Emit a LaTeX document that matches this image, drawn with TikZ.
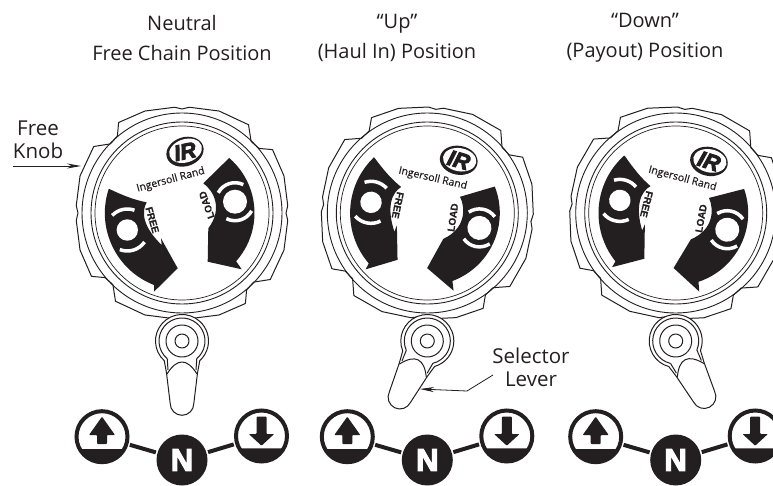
\documentclass[tikz,border=0pt]{standalone}
\usepackage{fontspec}
\setmainfont{Open Sans}
\newfontfamily\logofont[FakeBold=4,UprightFont=* Bold,ItalicFont=* Bold Italic]{Liberation Sans}
\newfontfamily\dialfont[FakeBold=1,UprightFont=* Bold]{Liberation Sans}
\newfontfamily\brandfont[FakeBold=0.5]{Open Sans}
\usetikzlibrary{arrows.meta}
\definecolor{inkblack}{HTML}{231F20}
\tikzset{
	title/.style={align=center,text=inkblack,font=\fontsize{20}{29.5}\selectfont},
	callout/.style={align=center,text=inkblack,font=\fontsize{20.5}{23}\selectfont},
	leader/.style={draw=inkblack,line width=0.8pt,-{Stealth[length=14pt,width=5pt]}},
	rimline/.style={draw=inkblack,line width=1pt,line join=round},
	lamp/.style={circle,draw=inkblack,fill=white,line width=4pt,minimum size=51pt,inner sep=0pt},
	neutral/.style={circle,fill=inkblack,text=white,minimum size=51pt,inner sep=0pt,font=\logofont\fontsize{31}{31}\selectfont},
	link/.style={draw=inkblack,line width=4pt,shorten >=1.5pt,shorten <=1.5pt},
	dialtext/.style={text=inkblack,inner sep=0pt,font=\dialfont\fontsize{10}{10}\selectfont},
}
\begin{document}
\begin{tikzpicture}[x=1pt,y=1pt]
		\useasboundingbox (0,0) rectangle (773,485);
		\clip (0,0) rectangle (773,485);
		\def\cy{272} %knob centre height
		\def\hy{144} %lever hub height
		\foreach \x/\cx/\rr/\lv in {1/182/0/0,2/427.3/-28/-26,3/675.7/-30/27}
		{
			\begin{scope}[shift={(\cx,\cy)}]
				% knob rim, same quadrant four times
				\draw[rimline,fill=white,rotate={\rr/6}] (0:104)
				\foreach \q in {0,90,180,270}
				{
					-- ({\q+4}:106) -- ({\q+20}:108.5) -- ({\q+35}:110.5) -- ({\q+40}:100.5) -- ({\q+46}:99.5)
					-- ({\q+53}:110.5) -- ({\q+70}:108.5) -- ({\q+86}:106) -- ({\q+90}:104)
				} -- cycle;
				\draw[rimline,line width=0.9pt] (0,0) circle (100);
				\draw[rimline,line width=0.9pt] (0,0) circle (91);
				\draw[rimline,line width=0.7pt] (0,0) circle (87);
				% dial turns with the lever
				\begin{scope}[rotate=\rr]
					\fill[inkblack] (-72,23.7) .. controls (-60,18) and (-48,13) .. (-35.3,10.7)
					.. controls (-41,1) and (-39,-14) .. (-20.3,-32) -- (-21,-25.3) -- (-4.3,-55.3)
					-- (-28,-78.7) -- (-28,-72) arc[start angle=248.7,end angle=161.8,radius=77.2] -- cycle;
					\fill[inkblack] (-41.7:72.5) arc[start angle=-41.7,end angle=49.4,radius=72.5]
					-- (21.3,29.7) .. controls (32,22) and (41,4) .. (26.3,-15.3)
					-- (25.7,-48.7) -- (59.7,-56.3) -- cycle;
					\fill[white] (-54.7,-17) circle (10.7);
					\fill[white] (53,11.3) circle (12);
					\draw[white,line width=3.5pt] (-54.7,-17) ++(136:21) arc[start angle=136,end angle=70,radius=21];
					\draw[white,line width=3.5pt] (-54.7,-17) ++(249:21) arc[start angle=249,end angle=325,radius=21];
					\draw[white,line width=3.5pt] (53,11.3) ++(152:19) arc[start angle=152,end angle=64,radius=19];
					\draw[white,line width=3.5pt] (53,11.3) ++(243:19) arc[start angle=243,end angle=331,radius=19];
					\fill[inkblack,rotate around={18:(3,61.3)}] (3,61.3) ellipse (19 and 14.5);
					\fill[white,rotate around={18:(3,61.3)}] (3.8,62) ellipse (16.8 and 11.6);
					\node[text=inkblack,inner sep=0pt,rotate=\rr+12,font=\logofont\itshape\fontsize{22}{22}\selectfont] (logo\x) at (3,61.5) {IR};
					\node[dialtext,font=\brandfont\fontsize{10.5}{10.5}\selectfont,rotate=\rr+15] (brand\x) at (-11.3,33) {Ingersoll Rand};
					\node[dialtext,rotate=\rr-74] (free\x) at (-29.7,-7) {FREE};
					\node[dialtext,rotate=\rr+110] (load\x) at (24.7,8) {LOAD};
				\end{scope}
			\end{scope}
			% selector lever
			\begin{scope}[shift={(\cx,\hy)},rotate=\lv]
				\draw[rimline,fill=white] (228:26.5) arc[start angle=228,end angle=-48,radius=26.5]
				-- (15.5,-32) -- (11.8,-62.5) arc[start angle=0,end angle=-180,radius=11.8] -- (-15.5,-32) -- cycle;
				\draw[rimline] (230:23) arc[start angle=230,end angle=-50,radius=23] -- (14,-29);
				\draw[rimline] (230:23) -- (-14,-29);
				\draw[rimline] (-15,-33) .. controls (-10,-25) and (-5,-21) .. (0,-21) .. controls (5,-21) and (10,-25) .. (15,-33);
				\draw[rimline] (0,0) circle (16);
				\draw[rimline] (0,0) circle (7);
			\end{scope}
			% position lamps
			\node[lamp] (up\x) at (\cx-80,48.3) {};
			\node[lamp] (dn\x) at (\cx+79.5,49) {};
			\node[neutral] (mid\x) at (\cx,25) {N};
			\draw[link] (up\x) -- (mid\x);
			\draw[link] (dn\x) -- (mid\x);
			\begin{scope}[shift={(up\x.center)}]
				\fill[inkblack] (209:25.5) arc[start angle=209,end angle=331,radius=25.5] -- cycle;
				\fill[inkblack,rounded corners=0.8pt] (0,20) -- (13,1.7) -- (5,1.7) -- (5,-7.3) -- (-5,-7.3) -- (-5,1.7) -- (-13,1.7) -- cycle;
			\end{scope}
			\begin{scope}[shift={(dn\x.center)}]
				\fill[inkblack] (209:25.5) arc[start angle=209,end angle=331,radius=25.5] -- cycle;
				\fill[inkblack,rounded corners=0.8pt] (0,-9.7) -- (12.7,2) -- (5,2) -- (5,19.3) -- (-5,19.3) -- (-5,2) -- (-12.7,2) -- cycle;
			\end{scope}
		}
		% headings
		\node[title] (neutral) at (182,447) {Neutral\\Free Chain Position};
		\node[title] (haulin) at (397,447) {“Up”\\(Haul In) Position};
		\node[title] (payout) at (645,447) {“Down”\\(Payout) Position};
		% callouts
		\node[callout] (freeknob) at (38,345) {Free\\Knob};
		\coordinate (knobstart) at (13,319);
		\coordinate (knobedge) at (81,319);
		\draw[leader] (knobstart) -- (knobedge);
		\node[callout] (selector) at (531,118) {Selector\\Lever};
		\coordinate (bend) at (467,94);
		\coordinate (leverstart) at (493,110);
		\coordinate (leveredge) at (420,96);
		\draw[leader] (leverstart) -- (bend) -- (leveredge);
\end{tikzpicture}
\end{document}
